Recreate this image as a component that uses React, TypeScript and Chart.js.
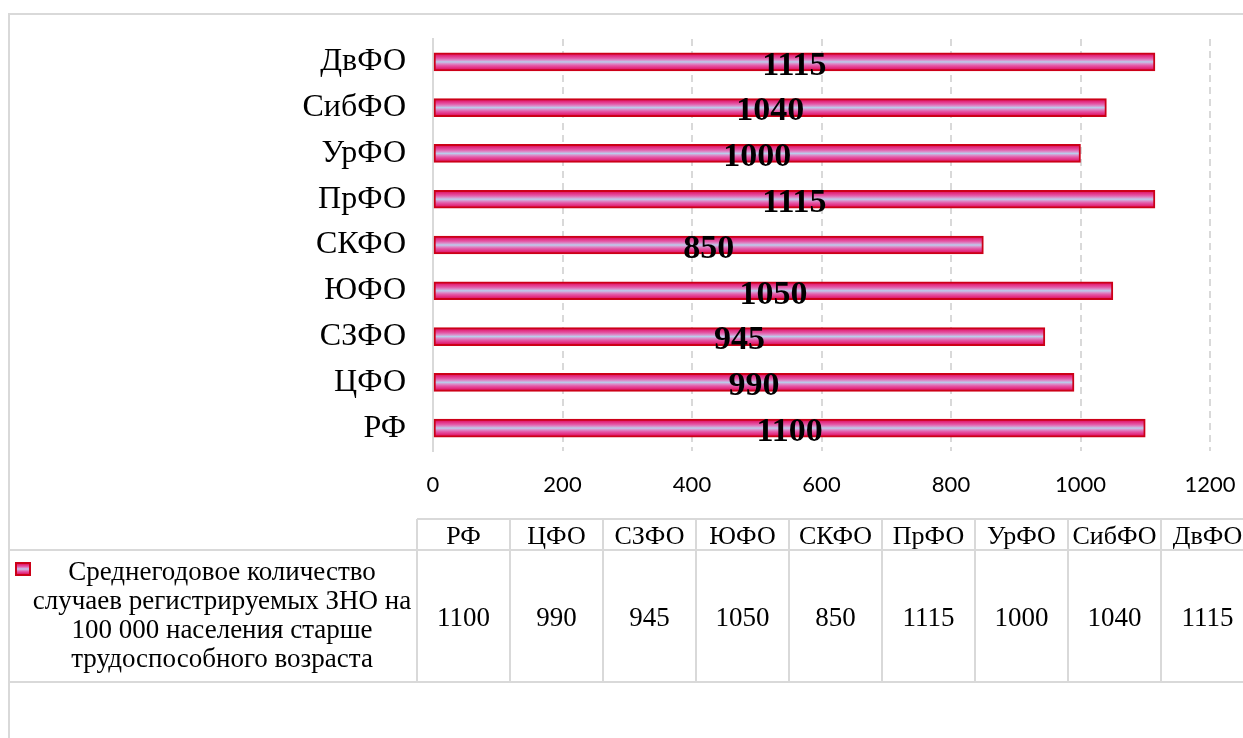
import React, { useEffect, useRef } from "react";
import { Chart, registerables } from "chart.js";

Chart.register(...registerables);

const categories = ["РФ", "ЦФО", "СЗФО", "ЮФО", "СКФО", "ПрФО", "УрФО", "СибФО", "ДвФО"];
const values = [1100, 990, 945, 1050, 850, 1115, 1000, 1040, 1115];
const xMin = 0;
const xMax = 1200;
const xStep = 200;
const seriesName =
  "Среднегодовое количество случаев регистрируемых ЗНО на 100 000 населения старше трудоспособного возраста";
const seriesNameLines = [
  "Среднегодовое количество",
  "случаев регистрируемых ЗНО на",
  "100 000 населения старше",
  "трудоспособного возраста",
];

const SERIF = "'Liberation Serif', 'Times New Roman', serif";
const GRID = "#d9d9d9";
const BAR_BORDER = "#cc0018";
const BAR_H = 18;

function fillGradient(ctx: CanvasRenderingContext2D, top: number, h: number) {
  const g = ctx.createLinearGradient(0, top, 0, top + h);
  g.addColorStop(0, "#d4083c");
  g.addColorStop(0.14, "#e2267a");
  g.addColorStop(0.3, "#e45aa8");
  g.addColorStop(0.42, "#d898d0");
  g.addColorStop(0.5, "#b8cfec");
  g.addColorStop(0.58, "#d898d0");
  g.addColorStop(0.7, "#e45aa8");
  g.addColorStop(0.86, "#e2267a");
  g.addColorStop(1, "#d4083c");
  return g;
}

function barBackground(c: any) {
  const chart = c.chart;
  const yScale = chart.scales && chart.scales.y;
  if (!yScale || c.dataIndex === undefined || !chart.chartArea) return "#e070b8";
  const yc = yScale.getPixelForValue(c.dataIndex);
  return fillGradient(chart.ctx, yc - BAR_H / 2, BAR_H);
}

const dataLabelPlugin = {
  id: "dataLabels",
  afterDatasetsDraw(chart: any) {
    const ctx = chart.ctx as CanvasRenderingContext2D;
    const meta = chart.getDatasetMeta(0);
    ctx.save();
    ctx.font = `bold 34px ${SERIF}`;
    ctx.fillStyle = "#000";
    ctx.textAlign = "center";
    ctx.textBaseline = "middle";
    meta.data.forEach((bar: any, i: number) => {
      const p = bar.getProps(["x", "y", "base"], true);
      ctx.fillText(String(values[i]), (p.x + p.base) / 2, p.y + 4);
    });
    ctx.restore();
  },
};

const tablePlugin = {
  id: "dataTable",
  afterDraw(chart: any) {
    const ctx = chart.ctx as CanvasRenderingContext2D;
    const W = chart.width;
    const H = chart.height;
    const left = 417;
    const colW = 93;
    const top = 519;
    const mid = 550;
    const bottom = 682;
    ctx.save();
    ctx.strokeStyle = GRID;
    ctx.lineWidth = 2;
    // outer frame
    ctx.beginPath();
    ctx.moveTo(9, H + 2);
    ctx.lineTo(9, 14);
    ctx.lineTo(W + 2, 14);
    ctx.stroke();
    // table grid
    ctx.beginPath();
    ctx.moveTo(left, top);
    ctx.lineTo(W + 2, top);
    ctx.moveTo(9, mid);
    ctx.lineTo(W + 2, mid);
    ctx.moveTo(9, bottom);
    ctx.lineTo(W + 2, bottom);
    for (let i = 0; i <= categories.length; i++) {
      const x = left + i * colW;
      ctx.moveTo(x, top);
      ctx.lineTo(x, bottom);
    }
    ctx.stroke();

    ctx.fillStyle = "#000";
    ctx.textAlign = "center";
    ctx.textBaseline = "alphabetic";
    ctx.font = `26px ${SERIF}`;
    categories.forEach((c, i) => {
      ctx.fillText(c, left + i * colW + colW / 2, 544);
    });
    ctx.font = `27px ${SERIF}`;
    values.forEach((v, i) => {
      ctx.fillText(String(v), left + i * colW + colW / 2, 626);
    });
    // legend key
    ctx.fillStyle = fillGradient(ctx, 563, 12);
    ctx.fillRect(16, 563, 14, 12);
    ctx.strokeStyle = BAR_BORDER;
    ctx.lineWidth = 2;
    ctx.strokeRect(16, 563, 14, 12);
    ctx.fillStyle = "#000";
    ctx.font = `27px ${SERIF}`;
    seriesNameLines.forEach((line, i) => {
      ctx.fillText(line, 222, 580 + i * 29);
    });
    ctx.restore();
  },
};

export default function App() {
  const ref = useRef<HTMLCanvasElement>(null);
  useEffect(() => {
    if (!ref.current) return;
    const chart = new Chart(ref.current, {
      type: "bar",
      data: {
        labels: categories,
        datasets: [
          {
            label: seriesName,
            data: values,
            backgroundColor: barBackground,
            borderColor: BAR_BORDER,
            borderWidth: 2,
            borderSkipped: false,
            barThickness: BAR_H,
          },
        ],
      },
      options: {
        indexAxis: "y",
        responsive: false,
        animation: false,
        devicePixelRatio: 1,
        layout: { padding: { top: 39, right: 33, bottom: 227, left: 0 } },
        plugins: {
          legend: { display: false },
          tooltip: { enabled: false },
          title: { display: false },
        },
        scales: {
          x: {
            type: "linear",
            min: xMin,
            max: xMax,
            ticks: {
              stepSize: xStep,
              color: "#000",
              font: { family: "Lato", size: 22 },
              padding: 21,
              callback: (v: any) => String(v),
            },
            grid: {
              color: (c: any) => (c.index === 0 ? "rgba(0,0,0,0)" : GRID),
              lineWidth: 2,
              drawTicks: false,
            },
            border: { display: false, dash: [7, 5] },
            afterFit: (s: any) => {
              s.height = 60;
              s.paddingLeft = 0;
              s.paddingRight = 0;
            },
          },
          y: {
            type: "category",
            reverse: true,
            ticks: {
              color: "#000",
              font: { family: "Liberation Serif", size: 32 },
              padding: 27,
            },
            grid: { display: false, drawTicks: false },
            border: { display: true, color: GRID, width: 2 },
            afterFit: (s: any) => {
              s.width = 433;
              s.paddingTop = 0;
              s.paddingBottom = 0;
            },
          },
        },
      },
      plugins: [dataLabelPlugin, tablePlugin],
    } as any);
    return () => chart.destroy();
  }, []);
  return (
    <div
      style={{
        position: "fixed",
        left: 0,
        top: 0,
        width: 1243,
        height: 738,
        background: "#fff",
        overflow: "hidden",
      }}
    >
      <canvas ref={ref} width={1243} height={738} style={{ display: "block", width: 1243, height: 738 }} />
    </div>
  );
}
